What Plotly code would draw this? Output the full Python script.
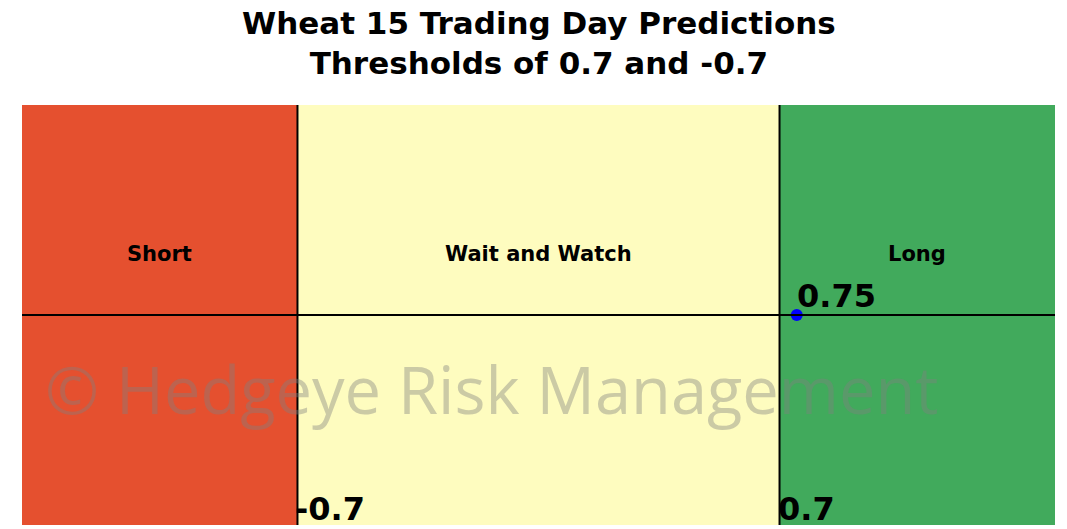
import plotly.graph_objects as go

# Zone boundaries and the current prediction
x_min, x_max = -1.5, 1.5
lower_threshold, upper_threshold = -0.7, 0.7
zone_labels = ["Short", "Wait and Watch", "Long"]
zone_colors = ["#E5502F", "#FEFCBF", "#41AA5C"]
prediction = 0.75
title_lines = ["Wheat 15 Trading Day Predictions", "Thresholds of 0.7 and -0.7"]

fig = go.Figure()

edges = [x_min, lower_threshold, upper_threshold, x_max]
for i, (label, color) in enumerate(zip(zone_labels, zone_colors)):
    fig.add_shape(type="rect", x0=edges[i], x1=edges[i + 1], y0=-1, y1=1,
                  fillcolor=color, line_width=0, layer="below")
    fig.add_annotation(x=(edges[i] + edges[i + 1]) / 2, y=0.29, text=f"<b>{label}</b>",
                       showarrow=False, font=dict(family="DejaVu Sans", size=21, color="black"))

# Threshold lines and the zero line
for t in (lower_threshold, upper_threshold):
    fig.add_shape(type="line", x0=t, x1=t, y0=-1, y1=1, line=dict(color="black", width=2))
    fig.add_annotation(x=t, y=-1, text=f"<b>{t}</b>", showarrow=False, xanchor="left",
                       yanchor="bottom", xshift=-4, yshift=-5,
                       font=dict(family="DejaVu Sans", size=32, color="black"))
fig.add_shape(type="line", x0=x_min, x1=x_max, y0=0, y1=0, line=dict(color="black", width=2))

# Prediction marker
fig.add_trace(go.Scatter(x=[prediction], y=[0], mode="markers",
                         marker=dict(color="blue", size=12), showlegend=False))
fig.add_annotation(x=prediction, y=0, text=f"<b>{prediction}</b>", showarrow=False,
                   xanchor="left", yanchor="bottom", xshift=-2, yshift=-2,
                   font=dict(family="DejaVu Sans", size=32, color="black"))

# Watermark
fig.add_annotation(x=-1.44, y=-0.35, text="© Hedgeye Risk Management", showarrow=False,
                   xref="x", yref="y", xanchor="left",
                   font=dict(family="Open Sans", size=65, color="rgba(128,128,128,0.4)"))

# Two-line title above the plot area
fig.add_annotation(x=0.5, y=1, xref="paper", yref="paper", xanchor="center", yanchor="bottom",
                   yshift=22, showarrow=False,
                   text="<b>" + "<br>".join(title_lines) + "</b>",
                   font=dict(family="DejaVu Sans", size=31, color="black"))

fig.update_layout(
    width=1067, height=529,
    margin=dict(l=22, r=12, t=105, b=4),
    paper_bgcolor="white", plot_bgcolor="white",
    xaxis=dict(range=[x_min, x_max], visible=False, fixedrange=True),
    yaxis=dict(range=[-1, 1], visible=False, fixedrange=True),
)

fig.write_html("out.html")
